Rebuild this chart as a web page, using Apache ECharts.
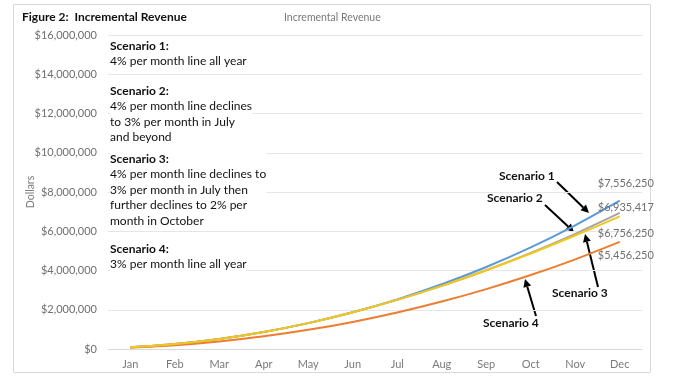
<!DOCTYPE html>
<html>
<head>
<meta charset="utf-8">
<script src="https://cdn.jsdelivr.net/npm/echarts@6/dist/echarts.min.js"></script>
<style>
html,body{margin:0;padding:0;background:#fff;}
#main{width:676px;height:386px;}
</style>
</head>
<body>
<div id="main"></div>
<script>
const months = ['Jan','Feb','Mar','Apr','May','Jun','Jul','Aug','Sep','Oct','Nov','Dec'];
const yTicks = [0, 2000000, 4000000, 6000000, 8000000, 10000000, 12000000, 14000000, 16000000];
const scenario1 = [83000, 253000, 513000, 867000, 1319000, 1872000, 2530000, 3298000, 4180000, 5180000, 6304000, 7556250];
const scenario2 = [83000, 253000, 513000, 867000, 1319000, 1872000, 2503000, 3217000, 4014000, 4898000, 5870000, 6935417];
const scenario3 = [83000, 253000, 513000, 867000, 1319000, 1872000, 2503000, 3217000, 4014000, 4869000, 5782000, 6756250];
const scenario4 = [63000, 189000, 383000, 644000, 976000, 1381000, 1860000, 2416000, 3051000, 3768000, 4569000, 5456250];

const FONT = 'Lato, "Open Sans", sans-serif';
const fmt = v => '$' + Math.round(v).toLocaleString('en-US');

function arrow(x1, y1, x2, y2) {
  const ang = Math.atan2(y2 - y1, x2 - x1);
  const L = 8, W = 4;
  const bx = x2 - L * Math.cos(ang), by = y2 - L * Math.sin(ang);
  const px = -Math.sin(ang) * W, py = Math.cos(ang) * W;
  return {
    type: 'group', silent: true, children: [
      { type: 'line', shape: { x1: x1, y1: y1, x2: bx, y2: by }, style: { stroke: '#000', lineWidth: 2 } },
      { type: 'polygon', shape: { points: [[x2, y2], [bx + px, by + py], [bx - px, by - py]] }, style: { fill: '#000' } }
    ]
  };
}

function block(x, y, head, lines) {
  return {
    type: 'text', left: x, top: y, silent: true, z: 10,
    style: {
      text: '{h|' + head + '}\n' + lines.map(l => '{t|' + l + '}').join('\n'),
      backgroundColor: '#fff',
      rich: {
        h: { fontFamily: FONT, fontSize: 12, fontWeight: 'bold', fill: '#111', lineHeight: 15.6 },
        t: { fontFamily: FONT, fontSize: 12, fill: '#111', lineHeight: 15.6 }
      }
    }
  };
}

function lbl(x, y, text) {
  return { type: 'text', left: x, top: y, silent: true,
    style: { text: text, fontFamily: FONT, fontSize: 12, fontWeight: 'bold', fill: '#111' } };
}

function series(name, data, color, dy, z) {
  return {
    name: name, type: 'line', data: data, smooth: 0.3, showSymbol: false, z: z,
    lineStyle: { color: color, width: 2 }, itemStyle: { color: color },
    endLabel: { show: true, formatter: p => fmt(p.value), offset: [-30, dy],
      color: '#6f6f6f', fontFamily: FONT, fontSize: 11 }
  };
}

const chart = echarts.init(document.getElementById('main'));
chart.setOption({
  backgroundColor: '#fff',
  animation: false,
  grid: { left: 108, right: 34, top: 35, bottom: 37 },
  xAxis: {
    type: 'category', data: months, boundaryGap: true,
    axisLine: { show: true, lineStyle: { color: '#d9d9d9' } },
    axisTick: { show: false },
    axisLabel: { color: '#7a7a7a', fontFamily: FONT, fontSize: 11, margin: 10 }
  },
  yAxis: {
    type: 'value', min: yTicks[0], max: yTicks[yTicks.length - 1], interval: yTicks[1] - yTicks[0],
    name: 'Dollars', nameLocation: 'middle', nameGap: 72, nameRotate: 90, nameMoveOverlap: false,
    nameTextStyle: { color: '#7a7a7a', fontFamily: FONT, fontSize: 10.5 },
    axisLine: { show: false }, axisTick: { show: false },
    splitLine: { lineStyle: { color: '#e6e6e6' } },
    axisLabel: { color: '#6f6f6f', fontFamily: FONT, fontSize: 11, margin: 11, formatter: v => fmt(v) }
  },
  series: [
    series('Scenario 1', scenario1, '#5b9bd5', -17, 2),
    series('Scenario 2', scenario2, '#a5a5a5', -5, 3),
    series('Scenario 3', scenario3, '#f3c719', 17, 4),
    series('Scenario 4', scenario4, '#ed7d31', 14, 2)
  ],
  graphic: [
    { type: 'rect', silent: true, z: -10, shape: { x: 13.5, y: 4.5, width: 637, height: 368 },
      style: { fill: null, stroke: '#d9d9d9', lineWidth: 1 } },
    { type: 'text', left: 22, top: 11, silent: true,
      style: { text: 'Figure 2:  Incremental Revenue', fontFamily: FONT, fontSize: 12, fontWeight: 'bold', fill: '#111' } },
    { type: 'text', left: 284, top: 12, silent: true,
      style: { text: 'Incremental Revenue', fontFamily: FONT, fontSize: 10.5, fill: '#7a7a7a' } },
    block(110, 38, 'Scenario 1:', ['4% per month line all year']),
    block(110, 83, 'Scenario 2:', ['4% per month line declines', 'to 3% per month in July', 'and beyond']),
    block(110, 151, 'Scenario 3:', ['4% per month line declines to', '3% per month in July then', 'further declines to 2% per', 'month in October']),
    block(110, 241, 'Scenario 4:', ['3% per month line all year']),
    lbl(499, 170, 'Scenario 1'),
    lbl(487, 192, 'Scenario 2'),
    lbl(552, 287, 'Scenario 3'),
    lbl(483, 317, 'Scenario 4'),
    arrow(557, 182, 589, 213),
    arrow(545, 205, 574, 232),
    arrow(598, 287, 585, 234),
    arrow(536, 316, 525, 279)
  ]
});
</script>
</body>
</html>
